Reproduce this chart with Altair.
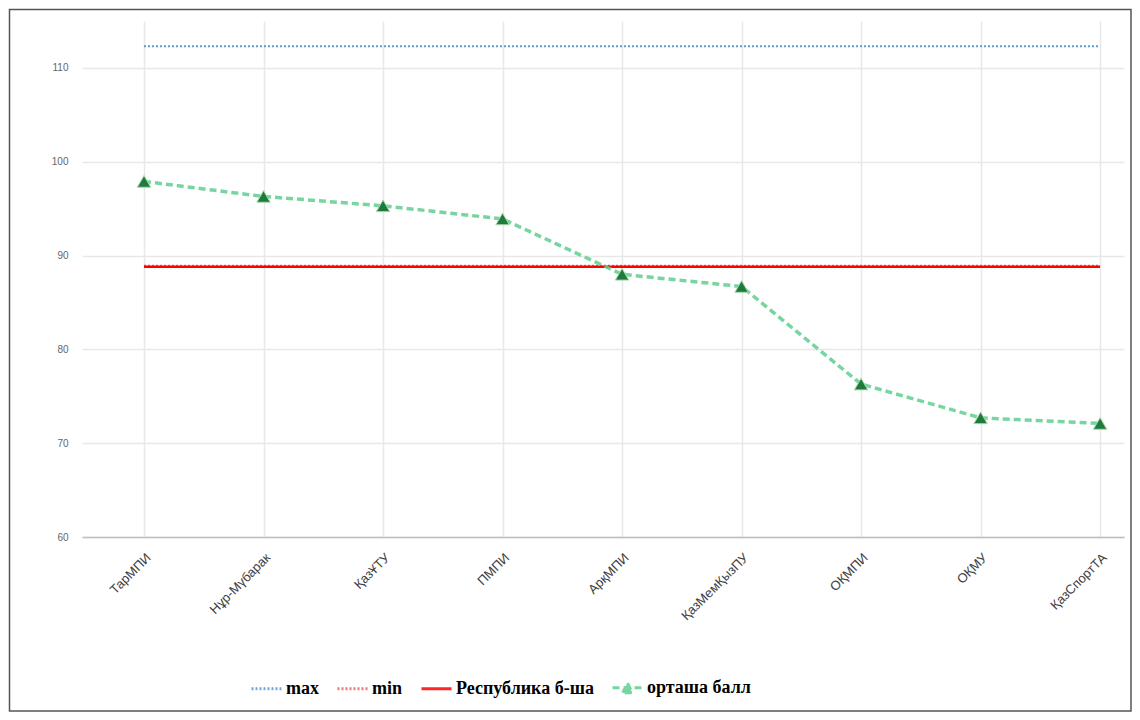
import altair as alt
import pandas as pd

categories = ["ТарМПИ", "Нұр-Мүбарак", "ҚазҰТУ", "ПМПИ", "АрқМПИ",
              "ҚазМемҚызПУ", "ОҚМПИ", "ОҚМУ", "ҚазСпортТА"]
avg_scores = [97.9, 96.3, 95.3, 93.9, 88.0, 86.7, 76.3, 72.7, 72.1]
max_value = 112.3
min_value = 88.9
republic_value = 88.8

series_names = ["max", "min", "Республика б-ша", "орташа балл"]
series_colors = ["#5b9bd5", "#e06666", "#ff0000", "#5fcf8f"]
series_dashes = [[2, 2], [2, 2], [1, 0], [7, 4]]
legend_shapes = ["stroke", "stroke", "stroke", "M-1,0H1M-0.32,0.32L0,-0.32L0.32,0.32Z"]

rows = []
for i, c in enumerate(categories):
    rows.append({"idx": i, "cat": c, "series": "max", "value": max_value})
    rows.append({"idx": i, "cat": c, "series": "min", "value": min_value})
    rows.append({"idx": i, "cat": c, "series": "Республика б-ша", "value": republic_value})
for i, (c, v) in enumerate(zip(categories, avg_scores)):
    rows.append({"idx": i, "cat": c, "series": "орташа балл", "value": v})
df = pd.DataFrame(rows)

W, H = 1042, 516
label_expr = "[" + ",".join("'" + c + "'" for c in categories) + "][datum.value]"

x_enc = alt.X("idx:Q", title=None,
              scale=alt.Scale(domain=[-0.519, 8.2], nice=False, zero=False),
              axis=alt.Axis(values=list(range(len(categories))), labelExpr=label_expr,
                            labelAngle=-45, labelFontSize=13, labelColor="#404040",
                            labelFont="Liberation Sans", labelPadding=14,
                            labelAlign="right", labelBaseline="top",
                            ticks=False, domainColor="#bfbfbf", domainWidth=1.5,
                            grid=True, gridColor="#e8e8e8", gridWidth=1.5))
y_enc = alt.Y("value:Q", title=None,
              scale=alt.Scale(domain=[60, 115], nice=False, zero=False),
              axis=alt.Axis(values=[60, 70, 80, 90, 100, 110], labelFontSize=10,
                            labelColor="#666666", labelFont="Liberation Sans",
                            labelPadding=14, ticks=False, domain=False,
                            grid=True, gridColor="#e8e8e8", gridWidth=1.5))

legend = alt.Legend(
    title=None, orient="none", legendX=168, legendY=650, direction="horizontal",
    columns=4, columnPadding=12, labelOffset=3, symbolSize=900,
    labelFont="Liberation Serif", labelFontSize=18, labelFontWeight="bold",
    labelColor="#000000", symbolStrokeWidth=3, symbolFillColor="#1e7b3c")

color_enc = alt.Color("series:N",
                      scale=alt.Scale(domain=series_names, range=series_colors),
                      legend=legend)
dash_enc = alt.StrokeDash("series:N",
                          scale=alt.Scale(domain=series_names, range=series_dashes),
                          legend=legend)
shape_enc = alt.Shape("series:N",
                      scale=alt.Scale(domain=series_names, range=legend_shapes),
                      legend=legend)

base = alt.Chart(df)

def line_layer(name, **kw):
    return base.transform_filter(alt.datum.series == name).mark_line(**kw).encode(
        x=x_enc, y=y_enc, color=color_enc, strokeDash=dash_enc)

max_line = line_layer("max", strokeWidth=2)
min_line = line_layer("min", strokeWidth=2)
rep_line = line_layer("Республика б-ша", strokeWidth=2.5)
avg_line = line_layer("орташа балл", strokeWidth=3.5, opacity=0.85)

# legend-only layer (no rows pass the filter): gives the legend its symbol shapes
legend_layer = base.transform_filter(alt.datum.series == "__none__").mark_point(
    filled=True).encode(x=x_enc, y=y_enc, shape=shape_enc, color=color_enc)

avg_pts = base.transform_filter(alt.datum.series == "орташа балл").mark_point(
    shape="triangle-up", filled=True, size=180, fill="#1e7b3c",
    stroke="#a8d8b0", strokeWidth=1, opacity=1).encode(x=x_enc, y=y_enc)

border = alt.Chart(pd.DataFrame({"k": [0]})).mark_rect(
    fill="transparent", stroke="#555555", strokeWidth=1.5).encode(
    x=alt.value(-72.5), x2=alt.value(1049), y=alt.value(-11.5), y2=alt.value(690))

chart = alt.layer(border, max_line, min_line, rep_line, avg_line, legend_layer,
                  avg_pts).properties(
    width=W, height=H, background="white",
    autosize=alt.AutoSizeParams(type="none"),
    padding={"left": 74, "top": 13, "right": 8, "bottom": 175},
).configure_view(stroke=None)

chart.save("out.html", embed_options={"renderer": "svg", "actions": False})
